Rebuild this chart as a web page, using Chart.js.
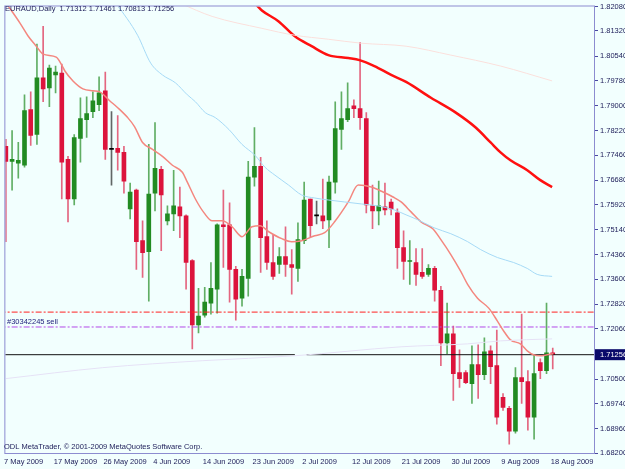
<!DOCTYPE html>
<html>
<head>
<meta charset="utf-8">
<script src="https://cdn.jsdelivr.net/npm/chart.js@4.4.0/dist/chart.umd.min.js"></script>
<style>
  html, body { margin: 0; padding: 0; background: #f2fffe; }
  #wrap { width: 625px; height: 469px; }
</style>
</head>
<body>
<div id="wrap"><canvas id="chart" width="625" height="469"></canvas></div>
<script>
// EURAUD daily bars, 7 May 2009 .. 18 Aug 2009 (bar index 0..88)
let opens = [
  1.77731, 1.77268, 1.77207, 1.77145, 1.78872, 1.78101, 1.79859, 1.79551, 1.79952, 1.80013,
  1.77330, 1.76096, 1.77978, 1.78564, 1.78811, 1.79026, 1.79458, 1.77638, 1.77669, 1.77546,
  1.75788, 1.76374, 1.74801, 1.74462, 1.76281, 1.77022, 1.75418, 1.75634, 1.75850, 1.75572,
  1.74184, 1.72179, 1.72488, 1.72858, 1.73289, 1.75294, 1.75294, 1.73906, 1.73012, 1.73629,
  1.76775, 1.77114, 1.74924, 1.74122, 1.74061, 1.74307, 1.74061, 1.73937, 1.74801, 1.76096,
  1.75572, 1.75572, 1.75449, 1.76621, 1.78255, 1.78564, 1.78996, 1.78903, 1.78595, 1.75880,
  1.75726, 1.75850, 1.76004, 1.75664, 1.74585, 1.74153, 1.74122, 1.73814, 1.73752, 1.73937,
  1.73259, 1.71624, 1.71901, 1.70699, 1.70699, 1.70359, 1.70945, 1.70637, 1.71377, 1.70914,
  1.69927, 1.69588, 1.68879, 1.70544, 1.70421, 1.69311, 1.71007, 1.70760, 1.71312
];
let highs = [
  1.77947, 1.78225, 1.77854, 1.79335, 1.79427, 1.80908, 1.81463, 1.80260, 1.80229, 1.80291,
  1.77423, 1.78101, 1.79242, 1.79273, 1.79427, 1.79890, 1.80044, 1.78811, 1.78687, 1.77731,
  1.76590, 1.76405, 1.75418, 1.77793, 1.78471, 1.77114, 1.75880, 1.76991, 1.76466, 1.75603,
  1.74215, 1.73320, 1.73351, 1.74122, 1.75325, 1.76374, 1.75973, 1.73999, 1.73906, 1.77268,
  1.78317, 1.77392, 1.75418, 1.74986, 1.74585, 1.75233, 1.74523, 1.75356, 1.76621, 1.76096,
  1.76035, 1.76713, 1.76806, 1.79119, 1.79427, 1.79705, 1.79181, 1.80970, 1.78780, 1.76528,
  1.76651, 1.76590, 1.76096, 1.75788, 1.75109, 1.74801, 1.74554, 1.74554, 1.74061, 1.73999,
  1.73382, 1.72858, 1.72148, 1.71408, 1.70760, 1.71531, 1.71562, 1.71778, 1.71531, 1.72025,
  1.70051, 1.69650, 1.70853, 1.72518, 1.70760, 1.71254, 1.71130, 1.72858, 1.71461
];
let lows = [
  1.74770, 1.76374, 1.76744, 1.77083, 1.77762, 1.77793, 1.79119, 1.78965, 1.79397, 1.76096,
  1.75387, 1.75911, 1.77238, 1.78009, 1.78625, 1.78841, 1.77330, 1.76528, 1.76991, 1.76281,
  1.75479, 1.73906, 1.73660, 1.72919, 1.75726, 1.74492, 1.75294, 1.75109, 1.74893, 1.73289,
  1.71439, 1.71932, 1.72426, 1.72518, 1.72549, 1.73968, 1.72889, 1.72333, 1.72765, 1.73074,
  1.76497, 1.73814, 1.73906, 1.73598, 1.73783, 1.73690, 1.73135, 1.73536, 1.74708, 1.74924,
  1.75325, 1.75171, 1.74585, 1.76281, 1.77638, 1.78502, 1.78625, 1.78255, 1.75664, 1.75171,
  1.75294, 1.75603, 1.75603, 1.73937, 1.73598, 1.73444, 1.73413, 1.73629, 1.73690, 1.72919,
  1.70914, 1.71285, 1.69835, 1.70236, 1.70359, 1.69742, 1.69897, 1.70483, 1.70359, 1.69095,
  1.69527, 1.68478, 1.68817, 1.69742, 1.68910, 1.68632, 1.70513, 1.70668, 1.70813
];
let closes = [
  1.77268, 1.77330, 1.77299, 1.78841, 1.78070, 1.79859, 1.79520, 1.80168, 1.80044, 1.77238,
  1.76096, 1.78009, 1.78595, 1.78749, 1.79150, 1.79397, 1.77638, 1.77638, 1.77546, 1.76651,
  1.76312, 1.74770, 1.74431, 1.76250, 1.77052, 1.76220, 1.75634, 1.75880, 1.75572, 1.74122,
  1.72179, 1.72457, 1.72889, 1.73320, 1.75294, 1.75233, 1.73906, 1.72981, 1.73690, 1.76775,
  1.77114, 1.74893, 1.74122, 1.73690, 1.74307, 1.74061, 1.73968, 1.74832, 1.76065, 1.75263,
  1.75572, 1.75418, 1.76621, 1.78286, 1.78595, 1.78903, 1.78903, 1.78625, 1.75911, 1.75726,
  1.75880, 1.75757, 1.75788, 1.74585, 1.74153, 1.74184, 1.73752, 1.73690, 1.73937, 1.73259,
  1.71624, 1.71901, 1.70668, 1.70513, 1.70390, 1.70945, 1.70637, 1.71346, 1.70884, 1.69311,
  1.69619, 1.68879, 1.70544, 1.70421, 1.69311, 1.70668, 1.70760, 1.71315, 1.71256
];

// moving averages as [bar index, price]
let maFast = [
  [0.1, 1.82173], [2.3, 1.81556], [3.6, 1.81155], [4.9, 1.80846], [6.0, 1.80600], [8.1, 1.80507],
  [9.0, 1.80260], [9.5, 1.80075], [10.8, 1.79767], [12.4, 1.79520], [14.0, 1.79458], [15.1, 1.79427],
  [16.7, 1.79150], [18.0, 1.78934], [19.6, 1.78626], [20.7, 1.78348], [22.0, 1.77854], [23.6, 1.77639],
  [25.2, 1.77423], [26.8, 1.77145], [28.4, 1.76929], [29.2, 1.76621], [30.5, 1.76096], [31.9, 1.75664],
  [33.2, 1.75418], [34.8, 1.75418], [36.4, 1.75233], [38.0, 1.74924], [39.6, 1.75233], [40.9, 1.75263],
  [42.3, 1.75078], [44.4, 1.74863], [46.0, 1.74770], [47.6, 1.74801], [49.7, 1.74955], [51.3, 1.75048],
  [52.9, 1.75387], [55.1, 1.76004], [56.7, 1.76528], [58.8, 1.76466], [60.7, 1.76312], [62.3, 1.76158],
  [63.6, 1.76004], [65.2, 1.75695], [66.8, 1.75387], [68.7, 1.75171], [70.0, 1.74832], [71.6, 1.74369],
  [73.2, 1.73845], [74.3, 1.73444], [75.9, 1.73012], [77.7, 1.72704], [79.1, 1.72302], [80.1, 1.71994],
  [81.2, 1.71716], [82.8, 1.71593], [83.9, 1.71377], [84.9, 1.71254], [86.0, 1.71223], [87.1, 1.71254],
  [88.1, 1.71285]
];
let maMid = [
  [17.8, 1.82173], [21.2, 1.81186], [23.3, 1.80322], [25.2, 1.79952], [27.3, 1.79705], [29.2, 1.79335],
  [30.5, 1.79119], [32.1, 1.78780], [33.7, 1.78626], [35.9, 1.78255], [38.0, 1.77793], [40.1, 1.77453],
  [41.7, 1.77083], [43.3, 1.76837], [45.5, 1.76528], [47.6, 1.76220], [49.7, 1.76127], [51.9, 1.76065],
  [54.5, 1.76004], [57.2, 1.75942], [59.9, 1.75880], [62.5, 1.75757], [64.4, 1.75603], [66.3, 1.75449],
  [68.9, 1.75202], [71.6, 1.75017], [74.3, 1.74770], [76.4, 1.74523], [79.1, 1.74276], [81.7, 1.74122],
  [83.9, 1.73937], [85.5, 1.73752], [87.9, 1.73690]
];
let maSlow = [
  [40.1, 1.82173], [41.2, 1.81957], [43.9, 1.81617], [46.5, 1.81155], [49.2, 1.80846], [51.9, 1.80569],
  [55.1, 1.80476], [56.9, 1.80414], [59.3, 1.80229], [62.0, 1.79952], [64.4, 1.79736], [68.4, 1.79242],
  [72.4, 1.78780], [75.6, 1.78317], [78.0, 1.77854], [79.6, 1.77546], [81.2, 1.77299], [83.9, 1.76991],
  [86.0, 1.76682], [87.9, 1.76466]
];
let maFaint = [
  [28.1, 1.82173], [33.2, 1.81772], [41.2, 1.81401], [46.5, 1.81186], [51.9, 1.81062], [57.2, 1.80939],
  [64.4, 1.80846], [71.6, 1.80569], [79.6, 1.80229], [87.9, 1.79767]
];
let maLavender = [
  [0, 1.70513], [15.6, 1.70853], [31.6, 1.71069], [46.5, 1.71223], [63.6, 1.71501], [74.3, 1.71593],
  [79.6, 1.71686], [87.9, 1.71748]
];

let stopLevel = 1.72580;
let sellLevel = 1.72117;
let bidPrice = 1.71256;

let dateLabels = ['7 May 2009', '17 May 2009', '26 May 2009', '4 Jun 2009', '14 Jun 2009', '23 Jun 2009',
                  '2 Jul 2009', '12 Jul 2009', '21 Jul 2009', '30 Jul 2009', '9 Aug 2009', '18 Aug 2009'];
let dateBars = [0, 8, 16, 24, 32, 40, 48, 56, 64, 72, 80, 88];
let priceTicks = [1.82080, 1.81320, 1.80540, 1.79780, 1.79000, 1.78220, 1.77460, 1.76680, 1.75920,
                  1.75140, 1.74360, 1.73600, 1.72820, 1.72060, 1.71256, 1.70500, 1.69740, 1.68960, 1.68200];

let bull = '#228b22';
let bear = '#dc143c';
let candleColor = (i) => closes[i] > opens[i] ? bull : (closes[i] < opens[i] ? bear : '#000000');
let wickColor = (i) => closes[i] > opens[i] ? 'rgba(34,139,34,0.7)' : (closes[i] < opens[i] ? 'rgba(220,20,60,0.65)' : 'rgba(0,0,0,0.6)');
let txtFont = '7.5px "Liberation Sans", Arial, sans-serif';

let toPts = (arr) => arr.map(p => ({x: p[0], y: p[1]}));
let lineSet = (data, color, width) => ({
    type: 'line', data: toPts(data), borderColor: color, borderWidth: width,
    pointRadius: 0, cubicInterpolationMode: 'monotone', order: 0, fill: false
});

let chromePlugin = {
    id: 'chrome',
    beforeDraw(chart) {
        let c = chart.ctx;
        c.save();
        c.fillStyle = '#f2fffe';
        c.fillRect(0, 0, chart.width, chart.height);
        c.restore();
    },
    afterDraw(chart) {
        let c = chart.ctx;
        let a = chart.chartArea;
        c.save();
        c.strokeStyle = '#8c8cd0';
        c.lineWidth = 1;
        c.strokeRect(a.left - 0.5, a.top - 0.5, a.right - a.left + 1, a.bottom - a.top + 1);
        c.font = txtFont;
        c.textBaseline = 'middle';
        c.fillStyle = '#1c1c58';
        c.fillText('EURAUD,Daily  1.71312 1.71461 1.70813 1.71256', 5, 9);
        c.fillText('ODL MetaTrader, \u00a9 2001-2009 MetaQuotes Software Corp.', 4, 447);
        let ys = chart.scales.y.getPixelForValue(sellLevel);
        c.fillStyle = '#23237e';
        c.fillText('#30342245 sell', 7, ys - 5);
        c.restore();
    }
};

new Chart(document.getElementById('chart'), {
    type: 'bar',
    data: {
        datasets: [
            lineSet(maFaint, '#fbe0dc', 1),
            lineSet(maLavender, '#e6e2f6', 1),
            lineSet(maMid, '#a6daf6', 1),
            lineSet(maSlow, '#ff1010', 2.5),
            lineSet(maFast, '#f4877f', 1.5),
            {
                type: 'line', data: [{x: -1, y: stopLevel}, {x: 96, y: stopLevel}],
                borderColor: '#ff2020', borderWidth: 1, borderDash: [6, 2, 2, 2], pointRadius: 0, order: 1
            },
            {
                type: 'line', data: [{x: -1, y: sellLevel}, {x: 96, y: sellLevel}],
                borderColor: '#b448e8', borderWidth: 1, borderDash: [6, 2, 2, 2], pointRadius: 0, order: 1
            },
            {
                type: 'line',
                data: [{x: -1, y: bidPrice}, {x: 46.5, y: bidPrice}, {x: 47.4, y: null}, {x: 48.4, y: bidPrice}, {x: 96, y: bidPrice}],
                borderColor: '#101010', borderWidth: 1, pointRadius: 0, spanGaps: false, order: 1
            },
            {
                label: 'body',
                data: opens.map((o, i) => ({x: i, y: [o, closes[i]]})),
                backgroundColor: (ctx) => candleColor(ctx.dataIndex),
                barThickness: 4, minBarLength: 1, grouped: false, order: 2
            },
            {
                label: 'wick',
                data: lows.map((l, i) => ({x: i, y: [l, highs[i]]})),
                backgroundColor: (ctx) => wickColor(ctx.dataIndex),
                barThickness: 1, grouped: false, order: 3
            }
        ]
    },
    options: {
        responsive: false,
        animation: false,
        layout: { padding: { left: 2, top: 3, right: 0, bottom: 0 } },
        plugins: { legend: { display: false }, tooltip: { enabled: false } },
        scales: {
            x: {
                type: 'linear',
                min: -0.08,
                max: 94.64,
                offset: false,
                afterFit: (s) => { s.height = 16; },
                afterBuildTicks: (s) => { s.ticks = dateBars.map(v => ({value: v - 0.3})); },
                grid: { drawOnChartArea: false, drawTicks: false },
                border: { display: true, color: '#6a6ac0' },
                ticks: {
                    autoSkip: false, maxRotation: 0, align: 'start', padding: 4,
                    color: '#1c1c58', font: { family: '"Liberation Sans", Arial', size: 7.5 },
                    callback: (v, i) => dateLabels[i]
                }
            },
            y: {
                position: 'right',
                min: 1.682,
                max: 1.8208,
                beginAtZero: false,
                afterFit: (s) => { s.width = 31; },
                afterBuildTicks: (s) => { s.ticks = priceTicks.map(v => ({value: v})); },
                grid: { drawOnChartArea: false, drawTicks: true, tickLength: 4, color: '#4a4aa0' },
                border: { display: true, color: '#5a5ab8' },
                ticks: {
                    autoSkip: false, padding: 2,
                    font: { family: '"Liberation Sans", Arial', size: 7.5 },
                    color: (ctx) => ctx.tick && ctx.tick.value === bidPrice ? '#ffffff' : '#1c1c58',
                    showLabelBackdrop: (ctx) => !!(ctx.tick && ctx.tick.value === bidPrice),
                    backdropColor: '#0a0a6a',
                    backdropPadding: { left: 5, right: 4, top: 1, bottom: 1 },
                    callback: (v) => v.toFixed(5)
                }
            }
        }
    },
    plugins: [chromePlugin]
});
</script>
</body>
</html>
